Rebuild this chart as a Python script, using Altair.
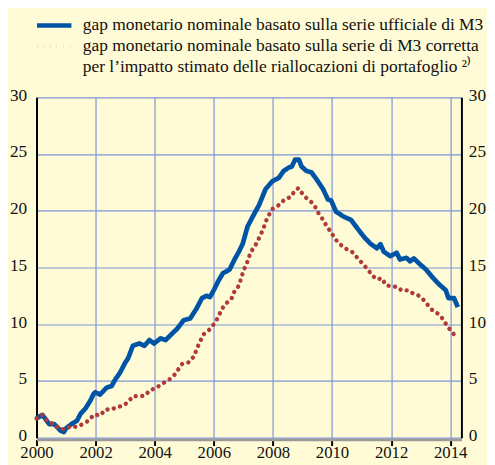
import altair as alt
import pandas as pd

# ---- data ----
years_official = [2000.0, 2000.2, 2000.43, 2000.6, 2000.82, 2000.93, 2000.99, 2001.21, 2001.37, 2001.49,
                  2001.65, 2001.82, 2001.93, 2001.99, 2002.15, 2002.37, 2002.54, 2002.67, 2002.82, 2003.0,
                  2003.1, 2003.26, 2003.48, 2003.65, 2003.82, 2003.98, 2004.2, 2004.37, 2004.54, 2004.76,
                  2004.98, 2005.2, 2005.42, 2005.6, 2005.75, 2005.87, 2006.0, 2006.15, 2006.31, 2006.53,
                  2006.7, 2006.85, 2006.98, 2007.14, 2007.31, 2007.53, 2007.75, 2007.98, 2008.2, 2008.36,
                  2008.53, 2008.64, 2008.75, 2008.88, 2008.97, 2009.14, 2009.3, 2009.47, 2009.7, 2009.86,
                  2009.97, 2010.14, 2010.42, 2010.64, 2010.86, 2011.08, 2011.3, 2011.52, 2011.64, 2011.75,
                  2011.97, 2012.19, 2012.3, 2012.52, 2012.64, 2012.77, 2012.97, 2013.19, 2013.41, 2013.63,
                  2013.85, 2013.94, 2014.13, 2014.26]
values_official = [1.7, 2.0, 1.2, 1.2, 0.6, 0.5, 0.8, 1.25, 1.5, 2.1,
                   2.55, 3.25, 3.85, 4.0, 3.8, 4.4, 4.55, 5.15, 5.7, 6.6,
                   7.0, 8.1, 8.3, 8.1, 8.6, 8.3, 8.75, 8.6, 9.05, 9.6,
                   10.35, 10.5, 11.4, 12.3, 12.5, 12.4, 13.0, 13.8, 14.5, 14.8,
                   15.7, 16.4, 17.1, 18.6, 19.45, 20.5, 21.9, 22.6, 22.9, 23.5,
                   23.8, 23.9, 24.5, 24.5, 23.9, 23.5, 23.4, 22.8, 21.9, 21.0,
                   20.9, 19.9, 19.45, 19.2, 18.45, 17.7, 17.1, 16.7, 17.05, 16.4,
                   16.0, 16.3, 15.7, 15.85, 15.55, 15.8, 15.3, 14.8, 14.1, 13.5,
                   13.0, 12.3, 12.3, 11.5]

years_adjusted = [2000.0, 2000.2, 2000.38, 2000.6, 2000.77, 2000.97, 2001.15, 2001.37, 2001.56, 2001.76,
                  2001.95, 2002.15, 2002.34, 2002.5, 2002.73, 2002.93, 2003.12, 2003.26, 2003.48, 2003.67,
                  2003.84, 2004.04, 2004.24, 2004.43, 2004.63, 2004.78, 2004.93, 2005.16, 2005.34, 2005.42,
                  2005.53, 2005.65, 2005.84, 2006.0, 2006.15, 2006.26, 2006.42, 2006.59, 2006.7, 2006.85,
                  2006.92, 2007.0, 2007.11, 2007.2, 2007.31, 2007.44, 2007.55, 2007.66, 2007.75, 2007.86,
                  2008.0, 2008.2, 2008.4, 2008.59, 2008.73, 2008.86, 2008.97, 2009.14, 2009.29, 2009.44,
                  2009.56, 2009.7, 2009.83, 2009.97, 2010.11, 2010.27, 2010.47, 2010.69, 2010.86, 2011.03,
                  2011.22, 2011.36, 2011.52, 2011.69, 2011.82, 2012.06, 2012.22, 2012.36, 2012.58, 2012.72,
                  2012.89, 2013.08, 2013.24, 2013.41, 2013.63, 2013.8, 2013.9, 2014.04, 2014.17, 2014.25]
values_adjusted = [1.7, 2.0, 1.4, 1.2, 0.75, 0.75, 1.0, 0.95, 1.2, 1.5,
                   2.05, 1.95, 2.5, 2.45, 2.7, 2.8, 3.2, 3.65, 3.65, 3.7,
                   4.2, 4.35, 4.75, 5.0, 5.4, 5.95, 6.5, 6.65, 7.2, 7.8,
                   8.45, 9.1, 9.5, 10.0, 10.6, 11.3, 11.85, 12.2, 12.9, 13.4,
                   14.0, 14.7, 15.3, 16.0, 16.6, 17.1, 17.7, 18.3, 19.0, 19.6,
                   20.2, 20.5, 21.0, 21.2, 21.7, 22.0, 21.6, 21.1, 20.8, 20.3,
                   19.7, 19.2, 18.6, 18.1, 17.5, 17.05, 16.65, 16.35, 15.85, 15.35,
                   14.8, 14.3, 13.95, 14.05, 13.45, 13.3, 13.3, 12.95, 13.0, 12.75,
                   12.6, 12.2, 11.7, 11.2, 10.85, 10.3, 9.8, 9.4, 8.95, 8.8]

x_ticks = [2000, 2002, 2004, 2006, 2008, 2010, 2012, 2014]
y_ticks = [0, 5, 10, 15, 20, 25, 30]

L1 = "gap monetario nominale basato sulla serie ufficiale di M3"
L2 = "gap monetario nominale basato sulla serie di M3 corretta"
L3 = "per l\u2019impatto stimato delle riallocazioni di portafoglio \u00b2\u207e"

BG = "#fffbd6"
GRID = "#7f95d8"
BLUE = "#0054a6"
RED = "#b03a3a"
FONT = "'Liberation Serif', 'Times New Roman', Times, serif"

df1 = pd.DataFrame({"year": years_official, "value": values_official, "serie": L1})
df2 = pd.DataFrame({"year": years_adjusted, "value": values_adjusted, "serie": L2})

color_scale = alt.Scale(domain=[L1, L2, L3], range=[BLUE, RED, "transparent"])
dash_scale = alt.Scale(domain=[L1, L2, L3], range=[[1, 0], [0.1, 6.6], [1, 0]])


def make_legend(with_encode):
    kw = dict(title=None, orient="none", legendX=-2, legendY=-82, direction="vertical",
              symbolType="stroke", symbolSize=1225, symbolStrokeWidth=4.6, clipHeight=18,
              rowPadding=3, labelFont=FONT, labelFontSize=17.7, labelColor="#111111",
              labelOffset=9, labelLimit=600, padding=0)
    if with_encode:
        kw["encode"] = {"symbols": {"update": {"strokeCap": {
            "signal": "datum.value === '" + L1 + "' ? 'butt' : 'round'"}}}}
    return alt.Legend(**kw)


x_axis = alt.Axis(values=x_ticks, format="d", title=None, grid=True, gridColor=GRID, gridWidth=1.2,
                  domainColor="#9a9a9a", domainWidth=2.5, tickColor="#000000", tickWidth=2,
                  tickSize=6, labelPadding=12, labelBaseline="alphabetic", labelFont=FONT,
                  labelFontSize=17, labelColor="#111111", labelFlush=False, offset=2)
y_left = alt.Axis(values=y_ticks, title=None, grid=True, gridColor=GRID, gridWidth=1.2,
                  domainColor="#000000", domainWidth=2, ticks=False, labelPadding=10,
                  labelOffset=-2, labelFont=FONT, labelFontSize=17.5, labelColor="#111111",
                  orient="left")
y_right = alt.Axis(values=y_ticks, title=None, grid=False, domainColor="#000000", domainWidth=2,
                   ticks=False, labelPadding=7, labelOffset=-2, labelFont=FONT,
                   labelFontSize=17.5, labelColor="#111111", orient="right")

x_scale = alt.Scale(domain=[2000, 2014.38], nice=False, zero=False)
y_scale = alt.Scale(domain=[0, 30], nice=False)


def build(with_encode):
    leg = make_legend(with_encode)
    blue = alt.Chart(df1).mark_line(strokeWidth=4.8, strokeJoin="round").encode(
        x=alt.X("year:Q", scale=x_scale, axis=x_axis),
        y=alt.Y("value:Q", scale=y_scale, axis=y_left),
        color=alt.Color("serie:N", scale=color_scale, legend=leg),
        strokeDash=alt.StrokeDash("serie:N", scale=dash_scale, legend=leg),
    )
    red = alt.Chart(df2).mark_line(strokeWidth=4.4, strokeCap="round").encode(
        x=alt.X("year:Q", scale=x_scale, axis=x_axis),
        y=alt.Y("value:Q", scale=y_scale, axis=y_right),
        color=alt.Color("serie:N", scale=color_scale, legend=leg),
        strokeDash=alt.StrokeDash("serie:N", scale=dash_scale, legend=leg),
    )
    ch = alt.layer(blue, red).resolve_axis(y="independent").properties(
        width=432, height=346, background=BG,
        padding={"left": 29, "top": 87, "right": 26, "bottom": 24},
        autosize=alt.AutoSizeParams(type="none"),
    ).configure_view(stroke=None, fill=BG)
    return ch


try:
    chart = build(True)
    chart.to_dict()
except Exception:
    chart = build(False)

chart.save("out.html", embed_options={"renderer": "svg", "actions": False})
